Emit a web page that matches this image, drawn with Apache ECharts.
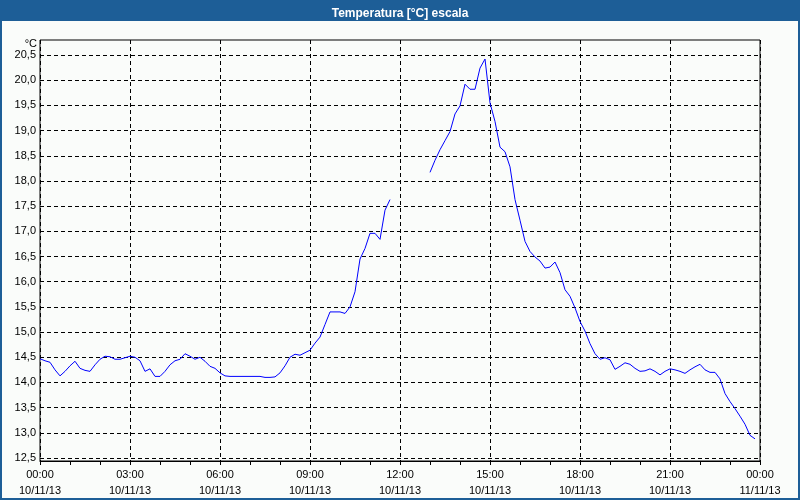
<!DOCTYPE html>
<html>
<head>
<meta charset="utf-8">
<script src="https://cdn.jsdelivr.net/npm/echarts@6/dist/echarts.min.js"></script>
<style>html,body{margin:0;padding:0;background:#fafcfa;}#c{width:800px;height:500px;}</style>
</head>
<body>
<div id="c"></div>
<script>
const titleText = 'Temperatura [°C] escala';
const unitName = '°C';
const xTickLabels = ['00:00\n10/11/13','03:00\n10/11/13','06:00\n10/11/13','09:00\n10/11/13','12:00\n10/11/13','15:00\n10/11/13','18:00\n10/11/13','21:00\n10/11/13','00:00\n11/11/13'];
const times = ['00:00','00:10','00:20','00:30','00:40','00:50','01:00','01:10','01:20','01:30','01:40','01:50',
 '02:00','02:10','02:20','02:30','02:40','02:50','03:00','03:10','03:20','03:30','03:40','03:50',
 '04:00','04:10','04:20','04:30','04:40','04:50','05:00','05:10','05:20','05:30','05:40','05:50',
 '06:00','06:10','06:20','06:30','06:40','06:50','07:00','07:10','07:20','07:30','07:40','07:50',
 '08:00','08:10','08:20','08:30','08:40','08:50','09:00','09:10','09:20','09:30','09:40','09:50',
 '10:00','10:10','10:20','10:30','10:40','10:50','11:00','11:10','11:20','11:30','11:40','11:50',
 '12:00','12:10','12:20','12:30','12:40','12:50','13:00','13:10','13:20','13:30','13:40','13:50',
 '14:00','14:10','14:20','14:30','14:40','14:50','15:00','15:10','15:20','15:30','15:40','15:50',
 '16:00','16:10','16:20','16:30','16:40','16:50','17:00','17:10','17:20','17:30','17:40','17:50',
 '18:00','18:10','18:20','18:30','18:40','18:50','19:00','19:10','19:20','19:30','19:40','19:50',
 '20:00','20:10','20:20','20:30','20:40','20:50','21:00','21:10','21:20','21:30','21:40','21:50',
 '22:00','22:10','22:20','22:30','22:40','22:50','23:00','23:10','23:20','23:30','23:40','23:50'];
const temps = [14.47,14.43,14.40,14.25,14.13,14.22,14.33,14.42,14.28,14.24,14.22,14.35,
 14.46,14.52,14.51,14.46,14.46,14.49,14.52,14.50,14.43,14.22,14.27,14.12,
 14.12,14.22,14.35,14.43,14.46,14.57,14.52,14.46,14.50,14.42,14.32,14.28,
 14.19,14.13,14.12,14.12,14.12,14.12,14.12,14.12,14.12,14.10,14.10,14.11,
 14.19,14.33,14.50,14.56,14.54,14.59,14.64,14.78,14.90,15.15,15.40,15.40,
 15.40,15.37,15.50,15.80,16.45,16.66,16.96,16.96,16.84,17.42,17.63,null,
 null,null,null,null,null,null,18.17,18.41,18.62,18.80,18.98,19.33,
 19.49,19.92,19.82,19.82,20.24,20.42,19.55,19.18,18.67,18.58,18.28,17.63,
 17.22,16.80,16.60,16.49,16.41,16.27,16.29,16.39,16.18,15.84,15.71,15.48,
 15.21,15.02,14.77,14.57,14.46,14.49,14.45,14.26,14.32,14.39,14.36,14.28,
 14.22,14.23,14.27,14.22,14.15,14.22,14.27,14.25,14.22,14.18,14.25,14.31,
 14.36,14.25,14.20,14.20,14.07,13.78,13.62,13.48,13.33,13.17,12.95,12.88];

const toMin = s => { const p = s.split(':'); return (+p[0]) * 60 + (+p[1]); };
const seriesData = times.map((t, i) => [toMin(t), temps[i]]);

const FONT = 'Liberation Sans';
const dash = [4, 3];
const chart = echarts.init(document.getElementById('c'), null, {renderer: 'canvas'});
chart.setOption({
  animation: false,
  backgroundColor: '#fafcfa',
  title: {
    text: titleText, left: 'center', top: 3,
    textStyle: {color: '#ffffff', fontFamily: FONT, fontWeight: 'bold', fontSize: 12}
  },
  graphic: [
    {type: 'rect', z: -10, shape: {x: 0, y: 0, width: 800, height: 21}, style: {fill: '#1d5e97'}},
    {type: 'rect', z: -10, shape: {x: 1, y: 0, width: 798, height: 499}, style: {fill: null, stroke: '#1d5e97', lineWidth: 2}}
  ],
  grid: [
    {left: 40, right: 40, top: 40, bottom: 39, show: true, borderColor: '#000', borderWidth: 1, backgroundColor: 'transparent'},
    {left: 40, right: 40, top: 55, bottom: 42}
  ],
  xAxis: [
    {
      gridIndex: 0, type: 'value', min: 0, max: 1440, interval: 180,
      axisLine: {show: true, lineStyle: {color: '#000', width: 1}},
      axisTick: {show: true, length: 4, lineStyle: {color: '#000'}},
      minorTick: {show: true, splitNumber: 3, length: 4, lineStyle: {color: '#000'}},
      splitLine: {show: true, lineStyle: {color: '#000', type: dash, width: 1}},
      axisLabel: {
        showMinLabel: true, showMaxLabel: true, margin: 6,
        color: '#000', fontFamily: FONT, fontSize: 11, lineHeight: 16,
        formatter: v => xTickLabels[Math.round(v / 180)]
      }
    },
    {gridIndex: 1, type: 'value', min: 0, max: 1440, show: false}
  ],
  yAxis: [
    {gridIndex: 0, type: 'value', min: 0, max: 1, show: false},
    {
      gridIndex: 1, type: 'value', min: 12.5, max: 20.5, interval: 0.5,
      name: unitName, nameLocation: 'end', nameGap: 4,
      nameTextStyle: {color: '#000', fontFamily: FONT, fontSize: 11, align: 'right', padding: [0, 3, 0, 0]},
      axisLine: {show: false}, axisTick: {show: false},
      splitLine: {show: true, lineStyle: {color: '#000', type: dash, width: 1}},
      axisLabel: {
        color: '#000', fontFamily: FONT, fontSize: 11, margin: 4,
        formatter: v => v.toFixed(1).replace('.', ',')
      }
    }
  ],
  series: [{
    type: 'line', xAxisIndex: 1, yAxisIndex: 1, data: seriesData,
    showSymbol: false, connectNulls: false,
    lineStyle: {color: '#0000ff', width: 1}, itemStyle: {color: '#0000ff'}
  }]
});
</script>
</body>
</html>
